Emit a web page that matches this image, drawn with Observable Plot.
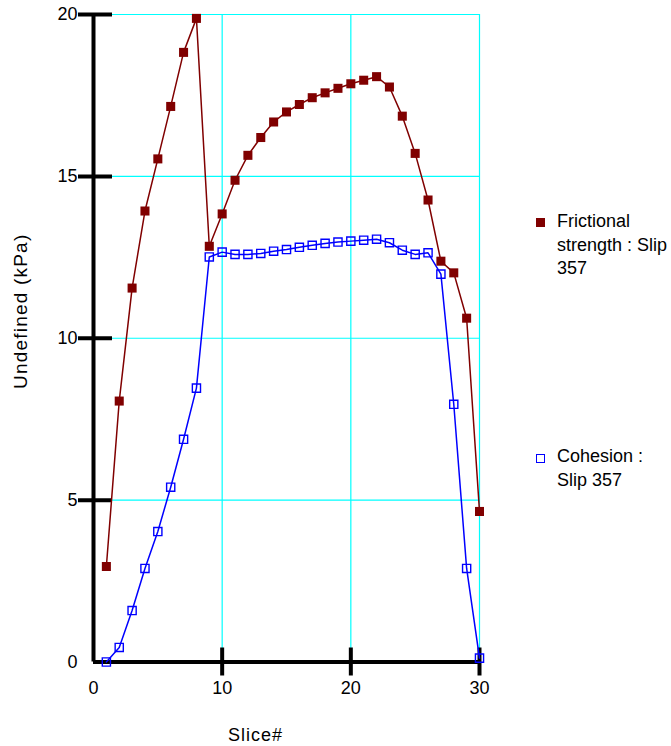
<!DOCTYPE html>
<html><head><meta charset="utf-8">
<script src="https://cdn.jsdelivr.net/npm/d3@7"></script>
<script src="https://cdn.jsdelivr.net/npm/@observablehq/plot@0.6"></script>
<style>
body{margin:0;background:#fff;}
#wrap{position:relative;width:671px;height:746px;font-family:"Liberation Sans",Arial,sans-serif;}
.leg{position:absolute;font-size:18px;line-height:23.5px;color:#000;letter-spacing:0px;white-space:nowrap}
.sw{position:absolute;width:9px;height:9px;box-sizing:border-box}
</style></head><body><div id="wrap"></div>
<script>
const slices = [1,2,3,4,5,6,7,8,9,10,11,12,13,14,15,16,17,18,19,20,21,22,23,24,25,26,27,28,29,30];
const frictional = [2.95,8.06,11.55,13.93,15.54,17.16,18.83,19.88,12.84,13.84,14.88,15.65,16.2,16.68,16.99,17.22,17.43,17.58,17.72,17.86,17.97,18.08,17.76,16.86,15.71,14.27,12.38,12.02,10.62,4.65];
const cohesion = [0,0.45,1.59,2.89,4.03,5.40,6.88,8.46,12.51,12.66,12.59,12.59,12.62,12.69,12.74,12.81,12.87,12.93,12.97,13.0,13.03,13.06,12.95,12.72,12.59,12.64,11.98,7.96,2.89,0.12];
const xTickLabels = [0,10,20,30];
const yTickLabels = [0,5,10,15,20];
const xTicks = [10,20,30];
const yTicks = [5,10,15,20];
const seriesNames = ["Frictional strength : Slip 357","Cohesion : Slip 357"];
const xLabel = "Slice#";
const yLabel = "Undefined (kPa)";

const fr = slices.map((s,i)=>({slice:s, value:frictional[i]}));
const co = slices.map((s,i)=>({slice:s, value:cohesion[i]}));

const RED = "#800000", BLUE = "#0000FF", CYAN = "#00FFFF";

const chart = Plot.plot({
  width: 671, height: 746,
  marginLeft: 93, marginRight: 192, marginTop: 14, marginBottom: 84.5,
  x: {domain: [0,30], label: null},
  y: {domain: [0,20], label: null},
  style: {fontFamily: "'Liberation Sans', Arial, sans-serif", fontSize: "18px", background: "white", color: "black"},
  marks: [
    Plot.gridX(xTicks, {stroke: CYAN, strokeOpacity: 1, strokeWidth: 1.2}),
    Plot.gridY(yTicks, {stroke: CYAN, strokeOpacity: 1, strokeWidth: 1.2}),
    Plot.axisX(xTickLabels, {tickSize: 0, tickPadding: 19, fontSize: 18, label: null}),
    Plot.axisY(yTickLabels, {tickSize: 0, tickPadding: 16, fontSize: 18, label: null}),
    Plot.ruleX([0], {stroke: "black", strokeWidth: 4}),
    Plot.ruleY([0], {stroke: "black", strokeWidth: 4}),
    Plot.ruleX(xTicks, {x: d => d, y1: 0, y2: 0, insetTop: -14, insetBottom: -14, stroke: "black", strokeWidth: 4}),
    Plot.ruleY(yTicks, {y: d => d, x1: 0, x2: 0, insetLeft: -15, insetRight: -19, stroke: "black", strokeWidth: 4}),
    Plot.line(fr, {x: "slice", y: "value", stroke: RED, strokeWidth: 1.5}),
    Plot.line(co, {x: "slice", y: "value", stroke: BLUE, strokeWidth: 1.5}),
    Plot.dot(fr, {x: "slice", y: "value", symbol: "square", r: 5.1, fill: RED, stroke: "none"}),
    Plot.dot(co, {x: "slice", y: "value", symbol: "square", r: 4.6, fill: "none", stroke: BLUE, strokeWidth: 1.4}),
    Plot.text([yLabel], {text: d => d, frameAnchor: "left", dx: -73, dy: -27, rotate: -90, textAnchor: "middle", lineAnchor: "middle", fontSize: 19, style: "letter-spacing:1.2px"}),
    Plot.text([xLabel], {text: d => d, frameAnchor: "bottom", dx: -31, dy: 73.5, textAnchor: "middle", lineAnchor: "middle", fontSize: 18})
  ]
});

const wrap = document.getElementById("wrap");
wrap.appendChild(chart);
// letter spacing for axis titles
chart.querySelectorAll("text").forEach(t => {
  if (t.textContent === yLabel) t.setAttribute("letter-spacing", "1.2");
  if (t.textContent === xLabel) t.setAttribute("letter-spacing", "1");
});

function legendItem(lines, top, swatchTop, swatchStyle) {
  const sw = document.createElement("div");
  sw.className = "sw";
  sw.style.left = "536px";
  sw.style.top = swatchTop + "px";
  Object.assign(sw.style, swatchStyle);
  wrap.appendChild(sw);
  const t = document.createElement("div");
  t.className = "leg";
  t.style.left = "557px";
  t.style.top = top + "px";
  t.innerHTML = lines.join("<br>");
  wrap.appendChild(t);
}
legendItem(["Frictional", "strength : Slip", "357"], 210, 218, {background: RED});
legendItem(["Cohesion :", "Slip 357"], 445, 454, {border: "1.5px solid " + BLUE, background: "white"});
</script>
</body></html>
